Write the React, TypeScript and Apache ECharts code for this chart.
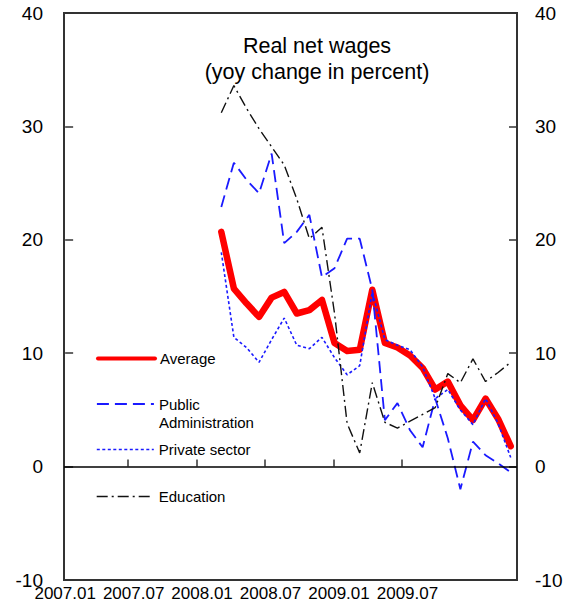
import React, { useEffect, useRef } from 'react';
import * as echarts from 'echarts';

// Category axis of the data (monthly, 2007.01 – 2009.12)
const axisYears = [2007, 2008, 2009];
const categories: string[] = [];
for (const y of axisYears) {
  for (let m = 1; m <= 12; m++) categories.push(`${y}.${String(m).padStart(2, '0')}`);
}

// Months with observations
const months = [
  '2008.01', '2008.02', '2008.03', '2008.04', '2008.05', '2008.06',
  '2008.07', '2008.08', '2008.09', '2008.10', '2008.11', '2008.12',
  '2009.01', '2009.02', '2009.03', '2009.04', '2009.05', '2009.06',
  '2009.07', '2009.08', '2009.09', '2009.10', '2009.11', '2009.12',
];

const average = [20.7, 15.7, 14.4, 13.2, 14.9, 15.4, 13.5, 13.8, 14.7, 10.9, 10.2, 10.3,
  15.6, 10.9, 10.5, 9.8, 8.7, 6.8, 7.5, 5.4, 4.1, 6.0, 4.2, 1.8];
const publicAdmin = [22.9, 26.8, 25.3, 24.1, 27.6, 19.7, 20.7, 22.2, 16.7, 17.5, 20.1, 20.1,
  15.6, 4.1, 5.6, 3.2, 1.7, 6.0, 2.5, -2.0, 2.2, 1.0, 0.3, -0.5];
const privateSector = [18.9, 11.4, 10.5, 9.2, 11.2, 13.1, 10.7, 10.4, 11.4, 9.6, 8.1, 8.9,
  15.4, 11.2, 10.7, 10.3, 8.8, 6.0, 6.8, 5.0, 3.7, 6.0, 3.8, 0.8];
const education = [31.2, 33.6, 31.6, 29.8, 28.2, 26.6, 23.6, 20.1, 21.1, 13.5, 3.8, 1.2,
  7.4, 3.9, 3.4, 4.0, 4.6, 5.2, 8.2, 7.4, 9.5, 7.5, 8.3, 9.2];

// Bottom axis labels and tick marks (as printed in the chart)
const xTickLabels = ['2007.01', '2007.07', '2008.01', '2008.07', '2009.01', '2009.07'];
const xLabelPos = [0, 6, 12, 18, 24, 30];
const xTickPos = [5.5, 11.5, 17.5, 23.5, 29.5];

const yMin = -10;
const yMax = 40;
const yStep = 10;

const FONT = '"Liberation Sans", Arial, Helvetica, sans-serif';

export default function App() {
  const ref = useRef<HTMLDivElement>(null);
  useEffect(() => {
    if (!ref.current) return;
    const chart = echarts.init(ref.current, undefined, { renderer: 'svg' });
    const pairs = (vals: number[]) => months.map((m, i) => [m, vals[i]]);
    const yAxisCommon = {
      type: 'value',
      min: yMin,
      max: yMax,
      interval: yStep,
      axisLine: { show: false },
      splitLine: { show: false },
      axisTick: { show: true, inside: true, length: 8, lineStyle: { color: '#333', width: 1.5 } },
    };
    const legendCommon = {
      orient: 'vertical',
      padding: 0,
      itemWidth: 57,
      itemHeight: 14,
      itemGap: 0,
      selectedMode: false,
      left: 96,
      textStyle: { fontSize: 15, color: '#000', fontFamily: FONT },
      itemStyle: { opacity: 0, borderWidth: 0, color: 'rgba(0,0,0,0)' },
    };
    chart.setOption({
      animation: false,
      backgroundColor: '#fff',
      grid: {
        left: 64, top: 13, right: 58, bottom: 34,
        show: true, borderColor: '#333', borderWidth: 2,
        outerBoundsMode: 'none',
      },
      graphic: [
        {
          type: 'text',
          x: 317,
          y: 33,
          style: {
            text: 'Real net wages\n(yoy change in percent)',
            align: 'center',
            verticalAlign: 'top',
            font: `21.5px ${FONT}`,
            lineHeight: 26,
            fill: '#000',
          },
        },
      ],
      xAxis: [
        {
          type: 'category',
          data: categories,
          boundaryGap: true,
          show: false,
        },
        {
          type: 'value',
          min: -0.1,
          max: 39.6,
          position: 'bottom',
          axisLine: { show: false },
          splitLine: { show: false },
          axisTick: {
            show: true, inside: true, length: 7,
            customValues: xTickPos,
            lineStyle: { color: '#333', width: 1.5 },
          },
          axisLabel: {
            customValues: xLabelPos,
            margin: 5,
            fontSize: 17,
            color: '#000',
            fontFamily: FONT,
            formatter: (v: number) => {
              const i = xLabelPos.findIndex((p) => Math.abs(p - v) < 0.01);
              return i >= 0 ? xTickLabels[i] : '';
            },
          },
        },
      ],
      yAxis: [
        {
          ...yAxisCommon,
          position: 'left',
          axisLabel: { margin: 21, fontSize: 19, color: '#000', fontFamily: FONT },
        },
        {
          ...yAxisCommon,
          position: 'right',
          axisLabel: { margin: 18, fontSize: 19, color: '#000', fontFamily: FONT },
        },
      ],
      legend: [
        {
          ...legendCommon,
          data: ['Average'],
          top: 351,
          lineStyle: { width: 4, type: 'solid' },
        },
        {
          ...legendCommon,
          data: ['Public Administration'],
          top: 377,
          formatter: () => '\nPublic\nAdministration',
          textStyle: { ...legendCommon.textStyle, lineHeight: 18 },
          lineStyle: { width: 1.8, type: [12, 6] },
        },
        {
          ...legendCommon,
          data: ['Private sector'],
          top: 442,
          lineStyle: { width: 1.6, type: [3, 2.5] },
        },
        {
          ...legendCommon,
          data: ['Education'],
          top: 489,
          lineStyle: { width: 1.4, type: [11, 4, 2, 4] },
        },
      ],
      series: [
        {
          name: 'Average',
          type: 'line',
          xAxisIndex: 0,
          yAxisIndex: 0,
          symbol: 'none',
          data: pairs(average),
          lineStyle: { color: '#ff0000', width: 6.5, cap: 'round', join: 'round' },
          itemStyle: { color: '#ff0000' },
          markLine: {
            silent: true,
            symbol: ['none', 'none'],
            label: { show: false },
            lineStyle: { color: '#000', width: 1.5, type: 'solid' },
            data: [{ yAxis: 0 }],
          },
        },
        {
          name: 'Public Administration',
          type: 'line',
          xAxisIndex: 0,
          yAxisIndex: 0,
          symbol: 'none',
          data: pairs(publicAdmin),
          lineStyle: { color: '#1a1aff', width: 1.8, type: [12, 6] },
          itemStyle: { color: '#1a1aff' },
        },
        {
          name: 'Private sector',
          type: 'line',
          xAxisIndex: 0,
          yAxisIndex: 0,
          symbol: 'none',
          data: pairs(privateSector),
          lineStyle: { color: '#1a1aff', width: 1.6, type: [3, 2.5] },
          itemStyle: { color: '#1a1aff' },
        },
        {
          name: 'Education',
          type: 'line',
          xAxisIndex: 0,
          yAxisIndex: 0,
          symbol: 'none',
          data: pairs(education),
          lineStyle: { color: '#111', width: 1.4, type: [11, 4, 2, 4] },
          itemStyle: { color: '#111' },
        },
      ],
    });
    return () => chart.dispose();
  }, []);
  return (
    <div
      ref={ref}
      style={{ position: 'fixed', left: 0, top: 0, width: 575, height: 614, background: '#fff' }}
    />
  );
}
